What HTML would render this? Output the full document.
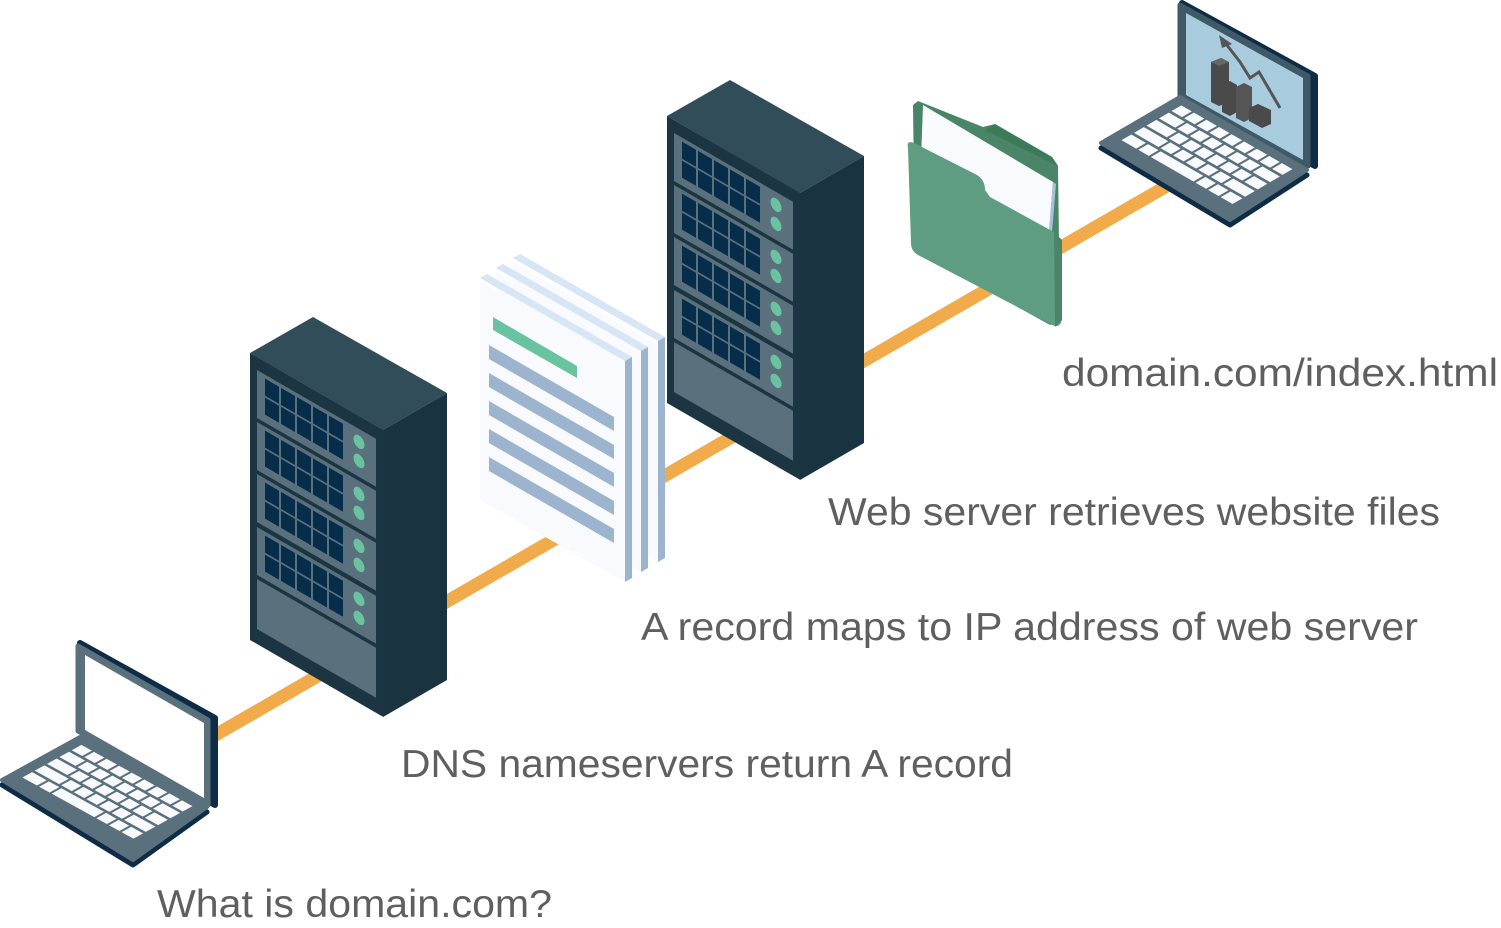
<!DOCTYPE html>
<html><head><meta charset="utf-8"><style>
html,body{margin:0;padding:0;background:#fff;width:1501px;height:928px;overflow:hidden}
svg{display:block}
text{font-family:"Liberation Sans",Arial,sans-serif;font-size:39px;fill:#5f5f5f}
</style></head><body>
<svg width="1501" height="928" viewBox="0 0 1501 928" xmlns="http://www.w3.org/2000/svg">
<defs>
<g id="slot">
  <rect x="7" y="0" width="119" height="48" fill="#5a707c"/>
  <g fill="#062d49">
    <rect x="15" y="4" width="14" height="17"/><rect x="31" y="4" width="14" height="17"/><rect x="47" y="4" width="14" height="17"/><rect x="63" y="4" width="14" height="17"/><rect x="79" y="4" width="14" height="17"/>
    <rect x="15" y="23" width="14" height="17"/><rect x="31" y="23" width="14" height="17"/><rect x="47" y="23" width="14" height="17"/><rect x="63" y="23" width="14" height="17"/><rect x="79" y="23" width="14" height="17"/>
  </g>
  <ellipse cx="109" cy="13" rx="5.5" ry="6.5" fill="#6ac3a0"/>
  <ellipse cx="109" cy="32" rx="5.5" ry="6.5" fill="#6ac3a0"/>
</g>
<g id="server">
  <polygon points="313,317 250,353 383,430 447,393" fill="#324d5a"/>
  <polygon points="383,430 447,393 447,680 383,717" fill="#1a3340"/>
  <g transform="translate(250,353) skewY(30)">
    <rect x="0" y="0" width="133" height="287" fill="#1b3542"/>
    <use href="#slot" y="13"/>
    <use href="#slot" y="65"/>
    <use href="#slot" y="117"/>
    <use href="#slot" y="170"/>
    <rect x="7" y="222" width="119" height="50" fill="#5a707c"/>
  </g>
</g>
<g id="keys0" fill="#f8fafd">
  <rect x="0.12" y="0.10" width="0.075" height="0.11"/><rect x="0.21" y="0.10" width="0.075" height="0.11"/><rect x="0.30" y="0.10" width="0.075" height="0.11"/><rect x="0.39" y="0.10" width="0.075" height="0.11"/><rect x="0.48" y="0.10" width="0.075" height="0.11"/><rect x="0.57" y="0.10" width="0.075" height="0.11"/><rect x="0.66" y="0.10" width="0.075" height="0.11"/><rect x="0.75" y="0.10" width="0.075" height="0.11"/><rect x="0.84" y="0.10" width="0.075" height="0.11"/>
  <rect x="0.12" y="0.24" width="0.115" height="0.11"/><rect x="0.25" y="0.24" width="0.075" height="0.11"/><rect x="0.34" y="0.24" width="0.075" height="0.11"/><rect x="0.43" y="0.24" width="0.075" height="0.11"/><rect x="0.52" y="0.24" width="0.075" height="0.11"/><rect x="0.61" y="0.24" width="0.075" height="0.11"/><rect x="0.70" y="0.24" width="0.075" height="0.11"/><rect x="0.79" y="0.24" width="0.125" height="0.11"/>
  <rect x="0.12" y="0.38" width="0.145" height="0.11"/><rect x="0.28" y="0.38" width="0.075" height="0.11"/><rect x="0.37" y="0.38" width="0.075" height="0.11"/><rect x="0.46" y="0.38" width="0.075" height="0.11"/><rect x="0.55" y="0.38" width="0.075" height="0.11"/><rect x="0.64" y="0.38" width="0.075" height="0.11"/><rect x="0.73" y="0.38" width="0.075" height="0.11"/><rect x="0.82" y="0.38" width="0.095" height="0.11"/>
  <rect x="0.12" y="0.52" width="0.175" height="0.11"/><rect x="0.31" y="0.52" width="0.075" height="0.11"/><rect x="0.40" y="0.52" width="0.075" height="0.11"/><rect x="0.49" y="0.52" width="0.075" height="0.11"/><rect x="0.58" y="0.52" width="0.075" height="0.11"/><rect x="0.67" y="0.52" width="0.075" height="0.11"/><rect x="0.76" y="0.52" width="0.155" height="0.11"/>
  <rect x="0.12" y="0.66" width="0.105" height="0.11"/><rect x="0.24" y="0.66" width="0.075" height="0.11"/><rect x="0.33" y="0.66" width="0.305" height="0.11"/><rect x="0.65" y="0.66" width="0.075" height="0.11"/><rect x="0.74" y="0.66" width="0.075" height="0.11"/><rect x="0.83" y="0.66" width="0.085" height="0.11"/>
</g>
<g id="keys"><use href="#keys0" transform="translate(-0.07,-0.03) scale(1.1,1.13)"/></g>
</defs>

<!-- connector -->
<line x1="212" y1="737" x2="1172" y2="183" stroke="#f2ab4b" stroke-width="13"/>

<!-- laptop 1 -->
<polygon points="80,643 215,718 215,805 80,731" fill="#0e2c46" stroke="#0e2c46" stroke-width="6" stroke-linejoin="round"/>
<polygon points="78,646 208,720 208,805 78,731" fill="#5a707c" stroke="#5a707c" stroke-width="5" stroke-linejoin="round"/>
<polygon points="85,655 204,723 204,798 85,730" fill="#fff"/>
<polygon points="2,780 80,737 207,807 133,860" fill="#0e2c46" stroke="#0e2c46" stroke-width="5" stroke-linejoin="round" transform="translate(0,5)"/>
<polygon points="2,780 80,737 207,807 133,860" fill="#5a707c" stroke="#5a707c" stroke-width="4" stroke-linejoin="round"/>
<g transform="matrix(127,70,-78,43,80,737)"><use href="#keys"/></g>

<!-- server 1 -->
<use href="#server"/>

<!-- documents -->
<g>
  <polygon points="513,262 658,345 658,562 513,480" fill="#f8fafd"/>
  <polygon points="513,258 658,341 665,337 520,254" fill="#d6e6f5"/>
  <polygon points="658,341 665,337 665,558 658,562" fill="#9db4cf"/>
</g>
<g transform="translate(-17,10)">
  <polygon points="513,262 658,345 658,562 513,480" fill="#f8fafd"/>
  <polygon points="513,258 658,341 665,337 520,254" fill="#d6e6f5"/>
  <polygon points="658,341 665,337 665,558 658,562" fill="#9db4cf"/>
</g>
<g transform="translate(-33,20)">
  <polygon points="513,262 658,345 658,562 513,480" fill="#f8fafd"/>
  <polygon points="513,258 658,341 665,337 520,254" fill="#d6e6f5"/>
  <polygon points="658,341 665,337 665,558 658,562" fill="#9db4cf"/>
  <polygon points="526,297 610,346 610,358 526,310" fill="#6ac3a0"/>
  <g fill="#9db4cf">
    <polygon points="522,325 647,397 647,411 522,339"/>
    <polygon points="522,353 647,425 647,439 522,367"/>
    <polygon points="522,381 647,453 647,467 522,395"/>
    <polygon points="522,409 647,481 647,495 522,423"/>
    <polygon points="522,437 647,509 647,523 522,451"/>
  </g>
</g>

<!-- server 2 -->
<use href="#server" transform="translate(417,-237)"/>

<!-- folder -->
<polygon points="913,105 918,101 983,127 995,124 1052,157 1058,166 1060,320 1050,325 915,250" fill="#4a8568"/>
<polygon points="985,130 995,124 1052,157 1058,166 1005,140" fill="#3d7a5a"/>
<polygon points="923,105 1053,182 1049,232 921,160" fill="#f8fafd"/>
<polygon points="1053,182 1056,184 1052,232 1049,232" fill="#a9c0dc"/>
<path d="M908,148 Q906,140 914,143 L977,175 Q985,180 985,190 L990,197 L1052,231 Q1062,237 1062,247 L1062,318 Q1061,329 1052,325 L918,255 Q911,251 911,243 Z" fill="#5f9d82"/>
<polygon points="1054,232 1062,240 1062,320 1055,327" fill="#4a8568"/>

<!-- laptop 2 -->
<polygon points="1182,3 1315,76 1315,166 1182,97" fill="#0e2c46" stroke="#0e2c46" stroke-width="6" stroke-linejoin="round"/>
<polygon points="1180,5 1308,76 1308,166 1180,97" fill="#3f5967" stroke="#3f5967" stroke-width="5" stroke-linejoin="round"/>
<polygon points="1186,13 1303,78 1303,160 1186,95" fill="#a9cbde"/>
<g>
  <polygon points="1211,62 1221,58 1229,62 1229,102 1219,106 1211,102" fill="#4a4a4a"/>
  <polygon points="1211,62 1221,58 1229,62 1219,66" fill="#666"/>
  <polygon points="1222,85 1230,81 1237,85 1237,112 1230,116 1222,112" fill="#4a4a4a"/>
  <polygon points="1236,87 1244,83 1252,87 1252,118 1244,122 1236,118" fill="#555"/>
  <polygon points="1249,108 1258,104 1271,110 1271,124 1262,128 1249,121" fill="#4a4a4a"/>
  <polyline points="1223,40 1240,62 1250,78 1259,72 1280,108" fill="none" stroke="#555" stroke-width="3"/>
  <polygon points="1219,35 1232,44 1222,48" fill="#555"/>
</g>
<polygon points="1101,143 1180,97 1307,170 1230,220" fill="#0e2c46" stroke="#0e2c46" stroke-width="5" stroke-linejoin="round" transform="translate(0,5)"/>
<polygon points="1101,143 1180,97 1307,170 1230,220" fill="#5a707c" stroke="#5a707c" stroke-width="4" stroke-linejoin="round"/>
<g transform="matrix(127,73,-79,46,1180,97)"><use href="#keys"/></g>

<!-- labels -->
<text x="1062" y="386" textLength="436" lengthAdjust="spacingAndGlyphs">domain.com/index.html</text>
<text x="828" y="525" textLength="612" lengthAdjust="spacingAndGlyphs">Web server retrieves website files</text>
<text x="641" y="640" textLength="777" lengthAdjust="spacingAndGlyphs">A record maps to IP address of web server</text>
<text x="401" y="777" textLength="612" lengthAdjust="spacingAndGlyphs">DNS nameservers return A record</text>
<text x="157" y="917" textLength="395" lengthAdjust="spacingAndGlyphs">What is domain.com?</text>
</svg>
</body></html>
